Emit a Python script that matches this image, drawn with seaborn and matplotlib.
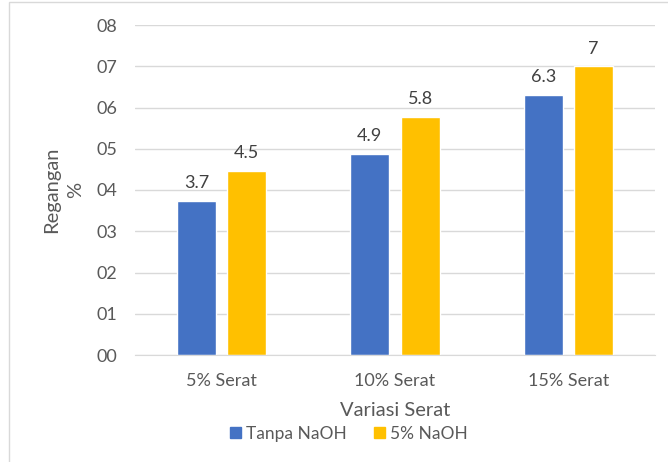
import matplotlib
matplotlib.use("Agg")
import matplotlib.pyplot as plt
import seaborn as sns
import pandas as pd
from matplotlib.patches import Patch, Rectangle

categories = ["5% Serat", "10% Serat", "15% Serat"]
series_names = ["Tanpa NaOH", "5% NaOH"]
tanpa_naoh = [3.73, 4.87, 6.30]
naoh_5 = [4.46, 5.77, 7.00]
y_ticks = [0, 1, 2, 3, 4, 5, 6, 7, 8]
colors = ["#4472C4", "#FFC000"]

df = pd.DataFrame({
    "Variasi": categories * 2,
    "Perlakuan": [series_names[0]] * 3 + [series_names[1]] * 3,
    "Regangan": tanpa_naoh + naoh_5,
})

sns.set_style("white")
plt.rcParams["font.family"] = ["Lato", "DejaVu Sans"]

text_col = "#595959"
fig = plt.figure(figsize=(6.68, 4.62), dpi=100)
ax = fig.add_axes([135 / 668, 107 / 462, 520 / 668, 330 / 462])

sns.barplot(data=df, x="Variasi", y="Regangan", hue="Perlakuan",
            palette=colors, width=0.58, gap=0.22, ax=ax,
            legend=False, errorbar=None, saturation=1)

for cont in ax.containers:
    labels = [f"{round(b.get_height(), 1):g}" for b in cont]
    ax.bar_label(cont, labels=labels, padding=7, fontsize=13, color="#404040")

ax.set_ylim(0, 8)
ax.set_xlim(-0.5, 2.5)
ax.set_yticks(y_ticks)
ax.set_yticklabels([f"{v:02d}" for v in y_ticks])
ax.yaxis.grid(True, color="#d9d9d9", linewidth=1)
ax.set_axisbelow(True)
for s in ["top", "right", "left"]:
    ax.spines[s].set_visible(False)
ax.spines["bottom"].set_color("#d9d9d9")
ax.tick_params(axis="both", length=0, labelsize=13, colors=text_col)
ax.tick_params(axis="y", pad=13)
ax.tick_params(axis="x", pad=13)
ax.set_xlabel("")
ax.set_ylabel("")

fig.text(395 / 668, (462 - 411) / 462, "Variasi Serat", ha="center", va="center",
         fontsize=14.5, color=text_col)
# y label on two lines, placed separately to get the wide line gap
fig.text(52 / 668, (462 - 190) / 462, "Regangan", ha="center", va="center",
         rotation=90, fontsize=14.5, color=text_col)
fig.text(76 / 668, (462 - 190) / 462, "%", ha="center", va="center",
         rotation=90, fontsize=14.5, color=text_col)

handles = [Patch(color=c, label=n) for c, n in zip(colors, series_names)]
leg = fig.legend(handles=handles, loc="center", bbox_to_anchor=(349 / 668, 28 / 462),
                 ncol=2, frameon=False, fontsize=12.5, handlelength=0.6, handleheight=0.6,
                 handletextpad=0.3, columnspacing=1.6)
for t in leg.get_texts():
    t.set_color(text_col)

fig.patches.append(Rectangle((9 / 668, -0.05), 1.0, (460 / 462) + 0.05,
                             transform=fig.transFigure, fill=False,
                             edgecolor="#d9d9d9", linewidth=1))

fig.savefig("out.png", dpi=100)
